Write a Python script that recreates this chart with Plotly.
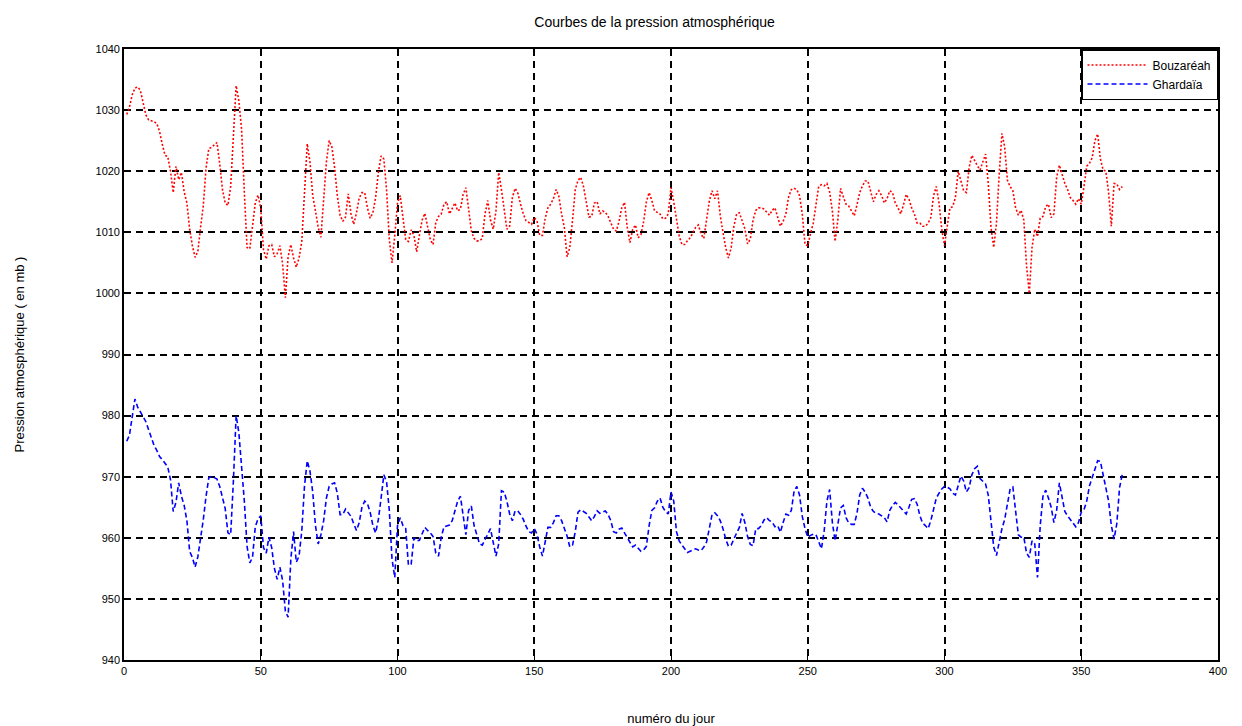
import plotly.graph_objects as go

days = list(range(1, 366))

bouzareah = [
    1029.3, 1030.5, 1032.5, 1033.6, 1033.8, 1033.2, 1031.2, 1029.2, 1028.4, 1028.3,
    1028.1, 1027.8, 1026.5, 1024.4, 1022.6, 1022.4, 1020.0, 1016.5, 1020.8, 1018.6,
    1019.8, 1016.6, 1014.8, 1010.5, 1007.8, 1005.9, 1006.9, 1010.8, 1014.4, 1020.5,
    1023.7, 1023.9, 1024.3, 1024.7, 1021.2, 1017.0, 1014.8, 1014.4, 1017.5, 1025.6,
    1034.0, 1031.5, 1026.8, 1016.5, 1007.5, 1007.3, 1011.5, 1014.8, 1016.1, 1014.0,
    1007.2, 1005.6, 1007.8, 1008.0, 1006.0, 1006.5, 1007.8, 1004.8, 999.3, 1006.0,
    1008.0, 1005.8, 1004.3, 1005.8, 1008.5, 1017.5, 1024.5, 1021.5, 1016.0, 1013.5,
    1010.8, 1009.2, 1015.0, 1021.5, 1025.0, 1024.0, 1020.6, 1016.0, 1012.8, 1011.8,
    1012.5, 1016.3, 1013.0, 1011.3, 1013.2, 1015.6, 1016.5, 1016.5, 1014.0, 1012.3,
    1013.2, 1015.7, 1019.8, 1022.5, 1022.0, 1017.0, 1008.8, 1005.0, 1009.5, 1014.8,
    1016.0, 1012.5, 1008.8, 1008.5, 1010.4, 1009.5, 1006.8, 1009.5, 1012.0, 1013.1,
    1010.8, 1008.8, 1008.0, 1011.6, 1012.6, 1013.0, 1014.6, 1015.0, 1013.0, 1013.8,
    1014.8, 1013.5, 1013.8, 1016.2, 1017.3, 1013.8, 1010.2, 1009.0, 1008.6, 1008.6,
    1009.0, 1013.0, 1015.2, 1012.0, 1010.5, 1013.5, 1019.8, 1017.0, 1013.5, 1010.5,
    1011.0, 1015.7, 1017.2, 1016.4, 1014.6, 1013.0, 1011.9, 1011.6, 1011.3, 1012.4,
    1011.9, 1009.5, 1009.5, 1012.3, 1014.0, 1014.6, 1015.5, 1017.0, 1015.9, 1013.0,
    1010.8, 1006.0, 1007.5, 1012.0, 1017.0, 1018.5, 1019.0, 1017.5, 1015.3, 1012.5,
    1012.6, 1014.8, 1015.0, 1013.0, 1013.5, 1013.3, 1012.6, 1011.4, 1010.5, 1010.2,
    1011.8, 1014.0, 1014.9, 1010.8, 1008.3, 1010.5, 1011.2, 1009.1, 1009.6, 1011.8,
    1015.0, 1016.5, 1015.2, 1013.5, 1013.2, 1013.0, 1012.2, 1012.3, 1013.0, 1017.3,
    1015.0, 1011.8, 1009.4, 1008.0, 1008.0, 1008.6, 1009.1, 1009.9, 1010.8, 1011.2,
    1009.7, 1009.0, 1012.2, 1015.1, 1016.8, 1015.5, 1016.8, 1012.8, 1010.0, 1007.5,
    1005.8, 1007.5, 1011.0, 1013.0, 1013.2, 1012.0, 1010.6, 1008.1, 1008.9, 1012.0,
    1013.6, 1014.0, 1014.0, 1013.8, 1013.3, 1012.8, 1013.6, 1014.0, 1012.5, 1011.0,
    1011.8, 1013.0, 1015.8, 1017.0, 1017.2, 1017.0, 1016.0, 1013.0, 1008.0, 1007.8,
    1009.8, 1011.5, 1014.5, 1017.5, 1017.8, 1017.6, 1018.0, 1016.6, 1013.5, 1008.5,
    1012.0, 1017.2, 1015.8, 1014.6, 1014.3, 1013.6, 1012.7, 1014.5, 1016.5, 1017.6,
    1018.4, 1018.4, 1016.5, 1015.0, 1016.2, 1016.8, 1016.0, 1014.8, 1015.5, 1016.8,
    1016.5, 1014.8, 1014.0, 1013.0, 1014.5, 1016.2, 1015.4, 1014.0, 1013.0, 1011.5,
    1011.5, 1011.0, 1011.0, 1011.5, 1012.4, 1016.0, 1017.5, 1014.8, 1010.5, 1007.8,
    1011.0, 1014.0, 1014.2, 1015.7, 1020.0, 1018.3, 1016.8, 1016.5, 1020.6, 1022.6,
    1021.7, 1020.9, 1020.2, 1021.5, 1022.8, 1018.0, 1010.8, 1007.5, 1011.5, 1019.5,
    1026.2, 1024.0, 1018.5, 1017.5, 1016.8, 1014.0, 1012.8, 1013.6, 1012.0, 1004.5,
    1000.0, 1007.5, 1010.5, 1009.3, 1012.3, 1012.6, 1014.2, 1014.6, 1012.4, 1013.0,
    1019.0, 1021.0, 1019.3, 1018.0, 1017.0, 1015.7, 1015.2, 1014.6, 1015.5, 1014.6,
    1017.5, 1020.8, 1021.3, 1022.2, 1025.0, 1026.1, 1022.0, 1020.2, 1020.0, 1016.5,
    1011.0, 1018.0, 1017.9, 1017.0, 1017.5,
]

ghardaia = [
    975.8, 976.8, 979.8, 982.7, 981.4, 980.6, 980.0, 979.0, 977.7, 976.2,
    975.1, 974.3, 973.3, 972.8, 972.2, 971.6, 969.5, 964.3, 965.8, 969.0,
    966.8, 965.3, 962.8, 957.8, 956.8, 955.2, 956.9, 959.8, 963.0, 966.8,
    969.8, 970.1, 969.9, 969.6, 968.4, 966.6, 964.8, 960.8, 960.5, 969.3,
    980.0, 977.2, 972.0, 966.0, 958.6, 955.9, 956.8, 961.8, 963.1, 963.6,
    958.4, 957.5, 960.1, 958.4, 955.0, 953.2, 955.2, 953.0, 948.0, 947.0,
    956.5, 961.0, 956.0, 957.0, 961.1, 968.5, 972.6, 970.9, 967.5, 962.0,
    959.0, 960.5, 962.8, 966.5, 968.4, 968.8, 969.0, 967.3, 963.8, 963.8,
    964.7, 964.1, 963.5, 962.3, 961.2, 962.5, 965.0, 966.0, 965.6, 964.2,
    962.0, 960.8, 963.0, 966.5, 970.3, 969.2, 964.5, 956.5, 953.5, 962.0,
    963.3, 962.0, 961.5, 955.5, 955.7, 960.0, 959.5, 959.6, 960.8, 961.7,
    961.2, 960.8, 960.2, 957.5, 957.0, 960.1, 961.8, 962.0, 962.1, 962.8,
    964.4, 966.0, 966.8, 963.9, 960.5, 964.5, 965.2, 962.0, 960.6, 959.0,
    958.8, 959.8, 960.6, 961.5, 959.5, 957.0, 959.0, 967.7, 967.5, 966.0,
    963.9, 962.8, 964.4, 964.4, 963.8, 963.0, 961.9, 961.0, 960.8, 961.5,
    960.6, 958.5, 957.0, 959.5, 961.7, 961.7, 962.5, 963.6, 963.6, 962.8,
    961.7, 960.3, 958.5, 958.8, 961.0, 964.2, 964.6, 964.3, 964.0, 963.4,
    962.8, 963.5, 964.4, 964.0, 964.2, 964.4, 963.8, 962.8, 961.0, 960.8,
    961.4, 961.6, 960.8, 960.1, 959.3, 958.5, 958.8, 958.3, 957.8, 958.0,
    958.6, 962.0, 964.5, 964.9, 966.0, 966.5, 965.0, 964.3, 963.9, 967.5,
    966.0, 961.0, 959.5, 958.8, 958.2, 957.6, 957.8, 958.0, 958.2, 958.0,
    957.9, 958.5, 959.3, 961.5, 963.8, 964.1, 963.6, 962.8, 961.5, 959.8,
    958.6, 958.8, 959.9, 960.8, 961.7, 964.0, 962.5, 960.2, 958.9, 958.7,
    961.5, 961.5, 962.0, 962.9, 963.3, 962.8, 962.6, 961.8, 962.0, 960.9,
    962.5, 963.9, 963.7, 964.5, 967.6, 968.4, 967.0, 963.5, 961.5, 960.1,
    960.4, 960.6, 960.5, 959.3, 958.2, 961.1, 966.0, 967.9, 962.5, 959.5,
    962.5, 964.9, 965.3, 963.3, 962.4, 962.2, 962.2, 964.0, 967.0, 968.1,
    967.5, 966.5, 965.0, 964.3, 964.0, 963.9, 963.6, 963.3, 962.6, 964.5,
    965.3, 965.8, 965.4, 964.9, 964.4, 963.9, 965.0, 966.3, 966.4, 965.5,
    963.6, 962.4, 962.0, 961.5, 962.8, 964.5, 966.5, 967.3, 968.0, 968.4,
    968.3, 968.0, 967.3, 967.0, 968.8, 970.1, 969.3, 967.5, 968.2, 970.3,
    971.3, 971.7, 969.7, 969.3, 968.8, 967.0, 962.8, 958.5, 957.1, 959.5,
    961.5, 963.0, 965.5, 968.0, 968.3, 964.5, 960.5, 960.1, 960.1, 957.5,
    956.8, 959.5, 959.0, 953.5, 962.0, 966.8, 967.8, 966.5, 965.0, 962.5,
    964.5, 969.0, 966.5, 964.3, 963.6, 963.0, 962.2, 961.8, 962.5, 964.2,
    964.6, 966.0, 968.5, 970.0, 971.3, 972.6, 972.5, 970.5, 968.4, 966.0,
    962.0, 959.8, 962.3, 968.2, 970.4,
]

x_ticks = [0, 50, 100, 150, 200, 250, 300, 350, 400]
y_ticks = [940, 950, 960, 970, 980, 990, 1000, 1010, 1020, 1030, 1040]

font_family = "Liberation Sans, Arial, sans-serif"

fig = go.Figure()
fig.add_trace(go.Scatter(
    x=days, y=bouzareah, mode="lines", name="Bouzaréah",
    line=dict(color="#ff0000", width=1.6, dash="2px,2px"),
))
fig.add_trace(go.Scatter(
    x=days, y=ghardaia, mode="lines", name="Ghardaïa",
    line=dict(color="#0000ff", width=1.6, dash="5px,3px"),
))

axis_common = dict(
    showline=True, linecolor="black", linewidth=1.6, mirror=True,
    showgrid=True, gridcolor="black", gridwidth=1.5, griddash="7px,5px",
    ticks="inside", ticklen=4, tickcolor="black",
    zeroline=False, automargin=False,
    tickfont=dict(family=font_family, size=11, color="black"),
)

fig.update_xaxes(
    range=[0, 400], tickvals=x_ticks, ticktext=[str(v) for v in x_ticks],
    title=dict(text="numéro du jour", font=dict(family=font_family, size=13, color="black"),
               standoff=40),
    **axis_common,
)
fig.update_yaxes(
    range=[940, 1040], tickvals=y_ticks, ticktext=[str(v) for v in y_ticks],
    title=dict(text="Pression atmosphérique ( en mb )",
               font=dict(family=font_family, size=13, color="black"), standoff=68),
    **axis_common,
)

fig.update_layout(
    width=1242, height=726,
    margin=dict(l=124, r=24, t=49, b=66),
    paper_bgcolor="white", plot_bgcolor="white",
    title=dict(text="Courbes de la pression atmosphérique", x=0.527, xanchor="center",
               y=0.97, yanchor="middle",
               font=dict(family=font_family, size=14, color="black")),
    legend=dict(
        x=1.0, y=1.0, xanchor="right", yanchor="top",
        bgcolor="white", bordercolor="black", borderwidth=1.5,
        font=dict(family=font_family, size=12, color="black"),
        tracegroupgap=0, itemwidth=60,
    ),
    showlegend=True,
)

fig.write_html("out.html")
